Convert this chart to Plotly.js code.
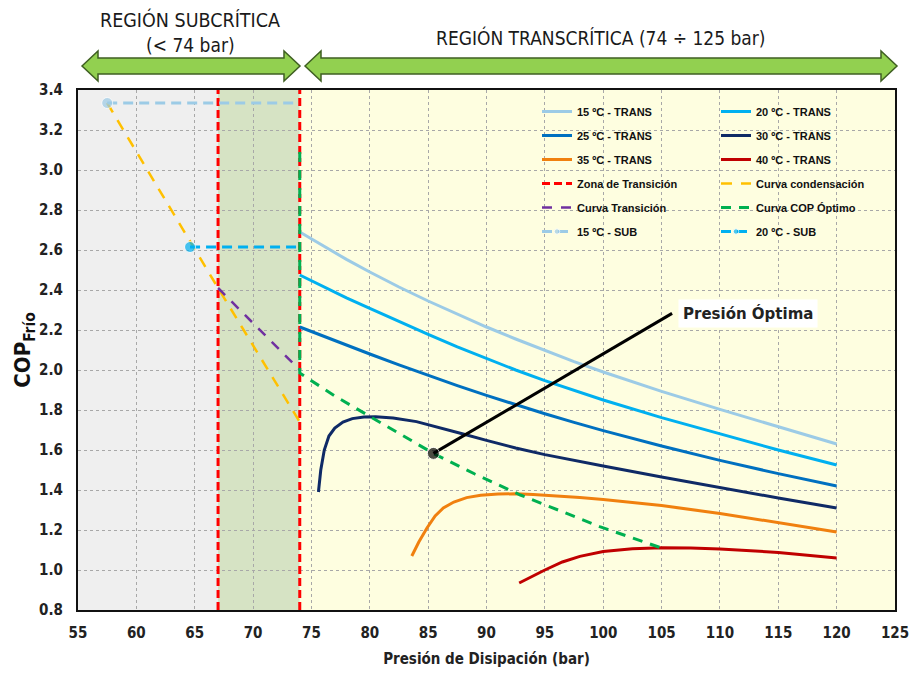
<!DOCTYPE html>
<html>
<head>
<meta charset="utf-8">
<script src="https://cdn.plot.ly/plotly-3.0.1.min.js"></script>
<style>html,body{margin:0;padding:0;background:#fff;}#chart{width:912px;height:673px;}</style>
</head>
<body>
<div id="chart"></div>
<script>
// ---- data ----
const transX  = [74, 76, 78, 80, 82.5, 85, 87.5, 90, 92.5, 95, 97.5, 100, 105, 110, 115, 120];
const trans15 = [2.690, 2.620, 2.553, 2.490, 2.415, 2.345, 2.278, 2.215, 2.155, 2.097, 2.042, 1.990, 1.893, 1.803, 1.715, 1.630];
const trans20 = [2.475, 2.417, 2.361, 2.308, 2.242, 2.178, 2.116, 2.056, 2.000, 1.947, 1.897, 1.850, 1.762, 1.680, 1.600, 1.525];
const trans25 = [2.215, 2.169, 2.124, 2.080, 2.026, 1.973, 1.922, 1.873, 1.826, 1.781, 1.738, 1.697, 1.620, 1.548, 1.482, 1.420];

const trans30X = [75.6, 75.8, 76.1, 76.5, 77, 77.7, 78.5, 79.5, 80.5, 82, 84, 86, 88, 90, 92.5, 95, 97.5, 100, 105, 110, 115, 120];
const trans30  = [1.39, 1.50, 1.60, 1.67, 1.71, 1.74, 1.757, 1.765, 1.766, 1.760, 1.742, 1.712, 1.680, 1.648, 1.610, 1.577, 1.548, 1.520, 1.465, 1.412, 1.360, 1.310];

const trans35X = [83.6, 84.2, 84.9, 85.6, 86.3, 87.2, 88.3, 89.5, 91, 92.5, 94, 96, 98, 100, 105, 110, 115, 120];
const trans35  = [1.07, 1.14, 1.21, 1.27, 1.31, 1.34, 1.362, 1.374, 1.380, 1.381, 1.378, 1.371, 1.362, 1.352, 1.322, 1.283, 1.237, 1.190];

const trans40X = [92.8, 93.8, 95, 96.5, 98, 100, 102.5, 105, 107.5, 110, 115, 120];
const trans40  = [0.935, 0.965, 1.000, 1.040, 1.068, 1.092, 1.106, 1.111, 1.110, 1.105, 1.088, 1.060];

const zonaX = [67, 67, null, 74, 74];
const zonaY = [0.8, 3.4, null, 0.8, 3.4];

const condX = [57.5, 67, 74];
const condY = [3.335, 2.41, 1.74];

const transCurveX = [67, 74];
const transCurveY = [2.41, 2.0];

const optX = [74, 74, 77, 80, 85.45, 89, 92.9, 99.7, 102.5, 105];
const optY = [3.09, 1.985, 1.87, 1.767, 1.583, 1.48, 1.375, 1.217, 1.16, 1.11];

const sub15X = [57.5, 73.5];
const sub15Y = [3.335, 3.335];
const sub20X = [64.6, 74];
const sub20Y = [2.615, 2.615];

const pointerX = [85.45, 105.9];
const pointerY = [1.583, 2.283];

const xTicks = [55, 60, 65, 70, 75, 80, 85, 90, 95, 100, 105, 110, 115, 120, 125];

// ---- layout helpers ----
const L = 78, R = 895, T = 90, B = 610;
const px = v => (v - L) / (R - L);
const py = v => (B - v) / (B - T);
function arrowPath(xl, xr, yc, hl, hh, sh) {
  const pts = [[xl, yc], [xl + hl, yc - hh], [xl + hl, yc - sh], [xr - hl, yc - sh], [xr - hl, yc - hh], [xr, yc],
               [xr - hl, yc + hh], [xr - hl, yc + sh], [xl + hl, yc + sh], [xl + hl, yc + hh]];
  return 'M' + pts.map(p => px(p[0]).toFixed(5) + ',' + py(p[1]).toFixed(5)).join(' L') + ' Z';
}

const NARROW = 'Liberation Sans Narrow, DejaVu Sans Condensed, Arial Narrow, sans-serif';
const LEGFONT = {family: 'Liberation Sans, Arial, sans-serif', size: 11, color: '#111', weight: 'bold'};

function tr(x, y, name, opts) {
  return Object.assign({x: x, y: y, name: name, type: 'scatter', mode: 'lines',
    legendgroup: name, hoverinfo: 'x+y+name'}, opts || {});
}

const traces = [
  tr(zonaX, zonaY, 'Zona de Transición', {line: {color: '#FF0000', width: 3, dash: '8px,4px'}, legendrank: 4}),
  tr(condX, condY, 'Curva condensación', {line: {color: '#FFC000', width: 2.5, dash: '11px,9px'}, legend: 'legend2', legendrank: 4}),
  tr(transCurveX, transCurveY, 'Curva Transición', {line: {color: '#7030A0', width: 2.5, dash: '10px,9px'}, legendrank: 5}),
  tr(sub15X, sub15Y, '15 ºC - SUB', {mode: 'lines+markers', line: {color: '#9CCBE6', width: 3, dash: '10px,6px'}, marker: {size: [11, 0], color: '#9CCBE6'}, legendrank: 6}),
  tr(sub20X, sub20Y, '20 ºC - SUB', {mode: 'lines+markers', line: {color: '#00B0F0', width: 3, dash: '10px,6px'}, marker: {size: [11, 0], color: '#00B0F0'}, legend: 'legend2', legendrank: 6}),
  tr(transX, trans15, '15 ºC - TRANS', {line: {color: '#9CCBE6', width: 3}, legendrank: 1}),
  tr(transX, trans20, '20 ºC - TRANS', {line: {color: '#00B0F0', width: 3}, legend: 'legend2', legendrank: 1}),
  tr(transX, trans25, '25 ºC - TRANS', {line: {color: '#0070C0', width: 3}, legendrank: 2}),
  tr(trans30X, trans30, '30 ºC - TRANS', {line: {color: '#0F2A66', width: 3}, legend: 'legend2', legendrank: 2}),
  tr(trans35X, trans35, '35 ºC - TRANS', {line: {color: '#F0800F', width: 3}, legendrank: 3}),
  tr(trans40X, trans40, '40 ºC - TRANS', {line: {color: '#C00000', width: 3}, legend: 'legend2', legendrank: 3}),
  tr(optX, optY, 'Curva COP Óptimo', {line: {color: '#00B050', width: 3, dash: '10px,8px'}, legend: 'legend2', legendrank: 5}),
  tr(pointerX, pointerY, 'Presión Óptima', {mode: 'lines+markers', line: {color: '#000', width: 3}, marker: {size: [12, 0], color: '#000'}, showlegend: false})
];

const layout = {
  width: 912, height: 673,
  margin: {l: L, r: 912 - R, t: T, b: 673 - B},
  paper_bgcolor: '#ffffff',
  plot_bgcolor: '#ffffff',
  showlegend: true,
  xaxis: {
    range: [55, 125], tickvals: xTicks, ticktext: xTicks.map(String),
    showgrid: true, gridcolor: '#a8a8a8', griddash: 'dot', gridwidth: 1,
    showline: true, linecolor: '#111', linewidth: 2, mirror: true, zeroline: false,
    ticks: '', ticklabelstandoff: 8,
    tickfont: {family: NARROW, size: 15, color: '#222', weight: 'bold'},
    title: {text: 'Presión de Disipación (bar)', font: {family: NARROW, size: 15, color: '#222', weight: 'bold'}, standoff: 12}
  },
  yaxis: {
    range: [0.8, 3.4], dtick: 0.2, tick0: 0.8, tickformat: '.1f',
    showgrid: true, gridcolor: '#a8a8a8', griddash: 'dot', gridwidth: 1,
    showline: true, linecolor: '#111', linewidth: 2, mirror: true, zeroline: false,
    ticks: '', ticklabelstandoff: 10,
    tickfont: {family: NARROW, size: 15, color: '#222', weight: 'bold'},
    title: {text: 'COP<sub>Frío</sub>', font: {family: NARROW, size: 22, color: '#111', weight: 'bold'}, standoff: 0}
  },
  legend: {x: px(537), y: py(97), xanchor: 'left', yanchor: 'top', bgcolor: 'rgba(0,0,0,0)', borderwidth: 0,
           font: LEGFONT, tracegroupgap: 5, traceorder: 'grouped'},
  legend2: {x: px(716), y: py(97), xanchor: 'left', yanchor: 'top', bgcolor: 'rgba(0,0,0,0)', borderwidth: 0,
            font: LEGFONT, tracegroupgap: 5, traceorder: 'grouped'},
  shapes: [
    {type: 'rect', xref: 'x', yref: 'y', x0: 55, x1: 67, y0: 0.8, y1: 3.4, fillcolor: '#EFEFEF', line: {width: 0}, layer: 'below'},
    {type: 'rect', xref: 'x', yref: 'y', x0: 67, x1: 74, y0: 0.8, y1: 3.4, fillcolor: '#D6E3C4', line: {width: 0}, layer: 'below'},
    {type: 'rect', xref: 'x', yref: 'y', x0: 74, x1: 125, y0: 0.8, y1: 3.4, fillcolor: '#FEFEE0', line: {width: 0}, layer: 'below'},
    {type: 'rect', xref: 'paper', yref: 'paper', x0: px(527), x1: px(883), y0: py(245), y1: py(98), fillcolor: '#FEFEE0', line: {color: '#222', width: 1.5}, layer: 'between'},
    {type: 'path', xref: 'paper', yref: 'paper', path: arrowPath(82, 300, 66, 16, 15, 8), fillcolor: '#92D050', line: {color: '#3F5F22', width: 1.5}},
    {type: 'path', xref: 'paper', yref: 'paper', path: arrowPath(305, 897, 66, 16, 15, 8), fillcolor: '#92D050', line: {color: '#3F5F22', width: 1.5}}
  ],
  annotations: [
    {xref: 'paper', yref: 'paper', x: px(190), y: py(20), text: 'REGIÓN SUBCRÍTICA', showarrow: false, xanchor: 'center', yanchor: 'middle',
     font: {family: 'DejaVu Sans Condensed, sans-serif', size: 19.5, color: '#1a1a1a'}},
    {xref: 'paper', yref: 'paper', x: px(190), y: py(45), text: '(< 74 bar)', showarrow: false, xanchor: 'center', yanchor: 'middle',
     font: {family: 'DejaVu Sans Condensed, sans-serif', size: 19, color: '#1a1a1a'}},
    {xref: 'paper', yref: 'paper', x: px(601), y: py(38), text: 'REGIÓN TRANSCRÍTICA (74 ÷ 125 bar)', showarrow: false, xanchor: 'center', yanchor: 'middle',
     font: {family: 'DejaVu Sans Condensed, sans-serif', size: 19, color: '#1a1a1a'}},
    {xref: 'x', yref: 'y', x: pointerX[1] + 0.5, y: pointerY[1], text: 'Presión Óptima', showarrow: false, xanchor: 'left', yanchor: 'middle',
     bgcolor: '#ffffff', borderpad: 4, font: {family: 'DejaVu Sans, sans-serif', size: 15, color: '#222', weight: 'bold'}}
  ]
};

Plotly.newPlot('chart', traces, layout, {displayModeBar: false, staticPlot: true});
</script>
</body>
</html>
